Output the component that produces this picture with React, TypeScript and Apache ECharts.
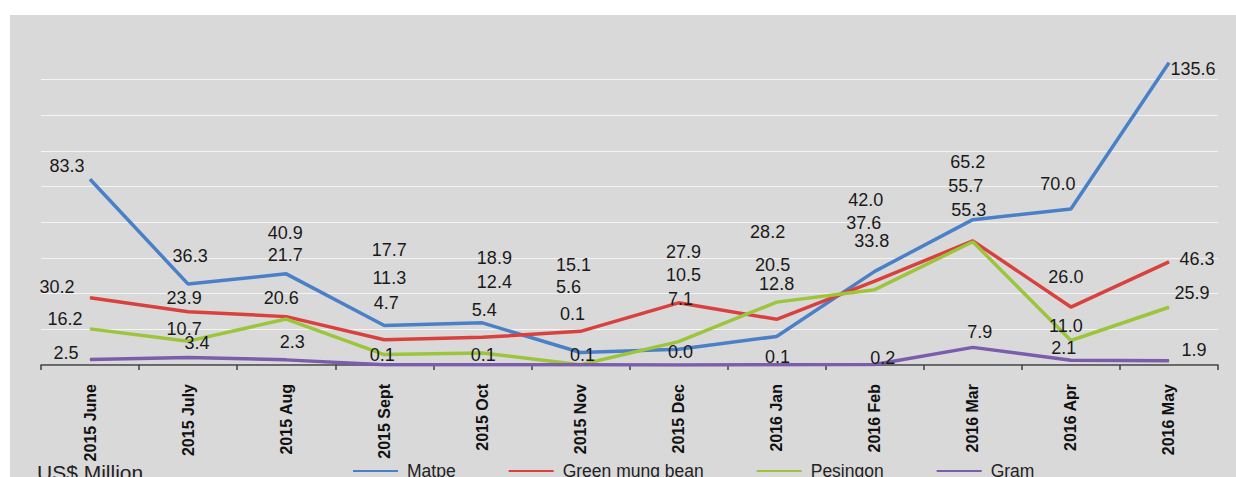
import React, { useEffect, useRef } from "react";
import * as echarts from "echarts";

const categories = [
  "2015 June", "2015 July", "2015 Aug", "2015 Sept", "2015 Oct", "2015 Nov",
  "2015 Dec", "2016 Jan", "2016 Feb", "2016 Mar", "2016 Apr", "2016 May",
];
const seriesNames = ["Matpe", "Green mung bean", "Pesingon", "Gram"];
const matpe = [83.3, 36.3, 40.9, 17.7, 18.9, 5.6, 7.1, 12.8, 42.0, 65.2, 70.0, 135.6];
const greenMungBean = [30.2, 23.9, 21.7, 11.3, 12.4, 15.1, 27.9, 20.5, 37.6, 55.7, 26.0, 46.3];
const pesingon = [16.2, 10.7, 20.6, 4.7, 5.4, 0.1, 10.5, 28.2, 33.8, 55.3, 11.0, 25.9];
const gram = [2.5, 3.4, 2.3, 0.1, 0.1, 0.1, 0.0, 0.1, 0.2, 7.9, 2.1, 1.9];
const unitLabel = "US$ Million";

// label placement (pixel offsets of each value label from its point)
const matpeLabelOffsets = [[-23, -13], [2, -28], [-1, -41], [5, -76], [12, -65], [-12, -66], [2, -50], [0, -52], [-9, -71], [-5, -58], [-13, -25], [24, 6]];
const greenLabelOffsets = [[-33, -11], [-4, -14], [-1, -62], [5, -62], [12, -55], [-7, -66], [5, -51], [-4, -54], [-11, -58], [-7, -55], [-5, -30], [28, -3]];
const pesingonLabelOffsets = [[-25, -10], [-4, -12], [-5, -21], [2, -52], [2, -43], [-8, -51], [5, -67], [-9, -70], [-3, -49], [-4, -32], [-5, -14], [23, -14]];
const gramLabelOffsets = [[-24, -6], [9, -14], [6, -18], [-2, -10], [1, -10], [2, -10], [2, -13], [1, -8], [8, -7], [7, -15], [-7, -12], [25, -11]];

const colors = ["#4a80c8", "#d9413e", "#9dc53c", "#7b5cad"];

export default function App() {
  const ref = useRef<HTMLDivElement>(null);
  useEffect(() => {
    if (!ref.current) return;
    const chart = echarts.init(ref.current, null, { renderer: "svg" });
    const values = [matpe, greenMungBean, pesingon, gram];
    const offsets = [matpeLabelOffsets, greenLabelOffsets, pesingonLabelOffsets, gramLabelOffsets];
    const font = "'Liberation Sans', Arial, sans-serif";
    chart.setOption({
      animation: false,
      backgroundColor: "#d9d9d9",
      color: colors,
      grid: { left: 41, right: 18, top: 44, bottom: 112, containLabel: false },
      legend: {
        left: 348,
        top: 457,
        itemWidth: 45,
        itemHeight: 2,
        itemGap: 53,
        icon: "rect",
        data: seriesNames,
        textStyle: { fontFamily: font, fontSize: 17.5, color: "#222", padding: [0, 0, 0, 4] },
      },
      xAxis: {
        type: "category",
        data: categories,
        boundaryGap: true,
        axisLine: { lineStyle: { color: "#404040", width: 1.5 } },
        axisTick: { show: true, length: 5, lineStyle: { color: "#404040", width: 1.5 } },
        axisLabel: {
          interval: 0,
          rotate: 90,
          margin: 19,
          fontFamily: font,
          fontWeight: "bold",
          fontSize: 16,
          color: "#111",
        },
        splitLine: { show: false },
      },
      yAxis: {
        type: "value",
        min: 0,
        max: 144,
        interval: 16,
        axisLabel: { show: false },
        axisLine: { show: false },
        axisTick: { show: false },
        splitLine: { show: true, showMaxLine: false, lineStyle: { color: "#f4f4f4", width: 1.2 } },
      },
      series: values.map((vals, s) => ({
        name: seriesNames[s],
        type: "line",
        symbol: "circle",
        symbolSize: 1,
        showSymbol: true,
        silent: true,
        lineStyle: { width: 3.5, color: colors[s] },
        itemStyle: { color: colors[s] },
        emphasis: { disabled: true },
        label: {
          show: true,
          position: "inside",
          fontFamily: font,
          fontSize: 18,
          color: "#1a1a1a",
          formatter: (p: any) => Number(p.value).toFixed(1),
        },
        data: vals.map((v, i) => ({ value: v, label: { offset: offsets[s][i] } })),
      })),
      graphic: [
        { type: "rect", left: 0, top: 0, z: 100, shape: { width: 1236, height: 15 }, style: { fill: "#ffffff" } },
        { type: "rect", left: 0, top: 0, z: 100, shape: { width: 10, height: 477 }, style: { fill: "#ffffff" } },
        {
          type: "text",
          left: 37,
          top: 462,
          z: 100,
          style: { text: unitLabel, font: `21px ${font}`, fill: "#222" },
        },
      ],
    });
    return () => chart.dispose();
  }, []);
  return (
    <div
      ref={ref}
      style={{ position: "absolute", left: 0, top: 0, width: 1236, height: 477 }}
    />
  );
}
